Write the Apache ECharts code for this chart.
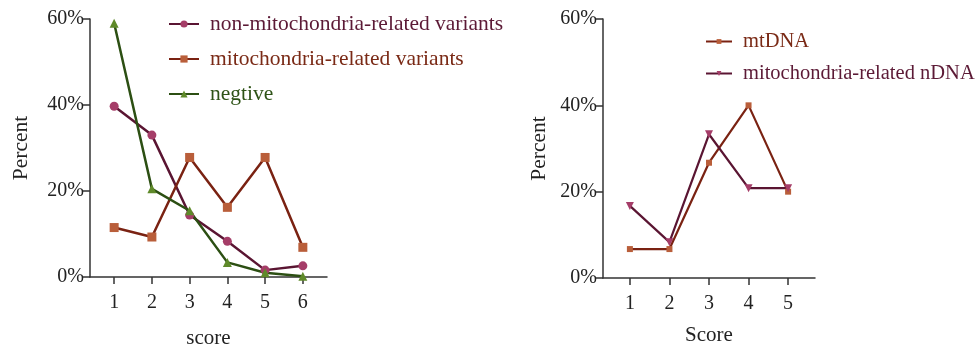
<!DOCTYPE html>
<html>
<head>
<meta charset="utf-8">
<script src="https://cdn.jsdelivr.net/npm/echarts@6/dist/echarts.min.js"></script>
<style>
html,body{margin:0;padding:0;background:#fff;}
#c{width:979px;height:348px;}
</style>
</head>
<body>
<div id="c"></div>
<script>
// Left panel
const leftScores = [1, 2, 3, 4, 5, 6];
const nonMito = [39.7, 33.0, 14.4, 8.3, 1.6, 2.6];
const mitoRelated = [11.5, 9.3, 27.8, 16.2, 27.8, 6.9];
const negtive = [59.0, 20.5, 15.4, 3.4, 1.0, 0.2];
// Right panel
const rightScores = [1, 2, 3, 4, 5];
const mtDNA = [6.7, 6.7, 26.7, 40.0, 20.0];
const nDNA = [16.7, 8.3, 33.3, 20.8, 20.8];

const FONT = 'Liberation Serif';
const AX = '#333333';
const C_NON_LINE = '#5a1532', C_NON_MK = '#a53d68';
const C_MITO_LINE = '#7a2212', C_MITO_MK = '#b95e3a';
const C_NEG_LINE = '#2c4f13', C_NEG_MK = '#5f8a2a';

function pairs(xs, ys){ return xs.map((x,i)=>[x, ys[i]]); }

function xAxisCfg(gridIndex, scores, name, min, max, gap){
  return {
    type:'value', gridIndex, min, max, name,
    nameLocation:'middle', nameGap:gap,
    nameTextStyle:{fontFamily:FONT, fontSize:21, color:'#222'},
    axisLine:{show:true, onZero:false, lineStyle:{color:AX, width:1.5}},
    axisTick:{show:true, customValues:scores, length:7, lineStyle:{color:AX, width:1.5}},
    axisLabel:{customValues:scores, fontFamily:FONT, fontSize:20, color:'#222', margin:16},
    splitLine:{show:false}
  };
}
function yAxisCfg(gridIndex, gap){
  return {
    type:'value', gridIndex, min:0, max:60, interval:20,
    name:'Percent', nameLocation:'middle', nameGap:gap, nameRotate:90,
    nameTextStyle:{fontFamily:FONT, fontSize:21.5, color:'#222'},
    axisLine:{show:true, lineStyle:{color:AX, width:1.5}},
    axisTick:{show:true, length:7, lineStyle:{color:AX, width:1.5}},
    axisLabel:{formatter:'{value}%', fontFamily:FONT, fontSize:20, color:'#222', margin:6},
    splitLine:{show:false}
  };
}

const chart = echarts.init(document.getElementById('c'), null, {renderer:'canvas'});
chart.setOption({
  animation:false,
  backgroundColor:'#fff',
  grid:[
    {left:90, top:19, width:237, height:258, outerBoundsMode:'none', containLabel:false},
    {left:603, top:19, width:212, height:259, outerBoundsMode:'none', containLabel:false}
  ],
  xAxis:[
    xAxisCfg(0, leftScores, 'score', 0.36, 6.64, 51),
    xAxisCfg(1, rightScores, 'Score', 0.32, 5.68, 47)
  ],
  yAxis:[ yAxisCfg(0, 58), yAxisCfg(1, 53) ],
  legend:[
    {
      left:163, top:8, orient:'vertical', itemWidth:30, itemHeight:9, itemGap:13,
      textStyle:{fontFamily:FONT, fontSize:21.5, padding:[0,0,0,6]},
      data:[
        {name:'non-mitochondria-related variants', textStyle:{color:'#5c1a36'}},
        {name:'mitochondria-related variants', textStyle:{color:'#7a2a16'}},
        {name:'negtive', textStyle:{color:'#2e5317'}}
      ]
    },
    {
      left:700, top:26, orient:'vertical', itemWidth:26, itemHeight:6, itemGap:11,
      textStyle:{fontFamily:FONT, fontSize:20.5, padding:[0,0,0,6]},
      data:[
        {name:'mtDNA', textStyle:{color:'#7a2a16'}},
        {name:'mitochondria-related nDNA', textStyle:{color:'#5c1a36'}}
      ]
    }
  ],
  series:[
    {name:'non-mitochondria-related variants', type:'line', xAxisIndex:0, yAxisIndex:0,
     data:pairs(leftScores, nonMito), symbol:'circle', symbolSize:9,
     lineStyle:{color:C_NON_LINE, width:2.5}, itemStyle:{color:C_NON_MK}},
    {name:'mitochondria-related variants', type:'line', xAxisIndex:0, yAxisIndex:0,
     data:pairs(leftScores, mitoRelated), symbol:'rect', symbolSize:9,
     lineStyle:{color:C_MITO_LINE, width:2.5}, itemStyle:{color:C_MITO_MK}},
    {name:'negtive', type:'line', xAxisIndex:0, yAxisIndex:0,
     data:pairs(leftScores, negtive), symbol:'triangle', symbolSize:9,
     lineStyle:{color:C_NEG_LINE, width:2.5}, itemStyle:{color:C_NEG_MK}},
    {name:'mtDNA', type:'line', xAxisIndex:1, yAxisIndex:1,
     data:pairs(rightScores, mtDNA), symbol:'rect', symbolSize:6,
     lineStyle:{color:C_MITO_LINE, width:2.2}, itemStyle:{color:C_MITO_MK}},
    {name:'mitochondria-related nDNA', type:'line', xAxisIndex:1, yAxisIndex:1,
     data:pairs(rightScores, nDNA), symbol:'triangle', symbolRotate:180, symbolSize:8,
     lineStyle:{color:C_NON_LINE, width:2.2}, itemStyle:{color:C_NON_MK}}
  ]
});
</script>
</body>
</html>
